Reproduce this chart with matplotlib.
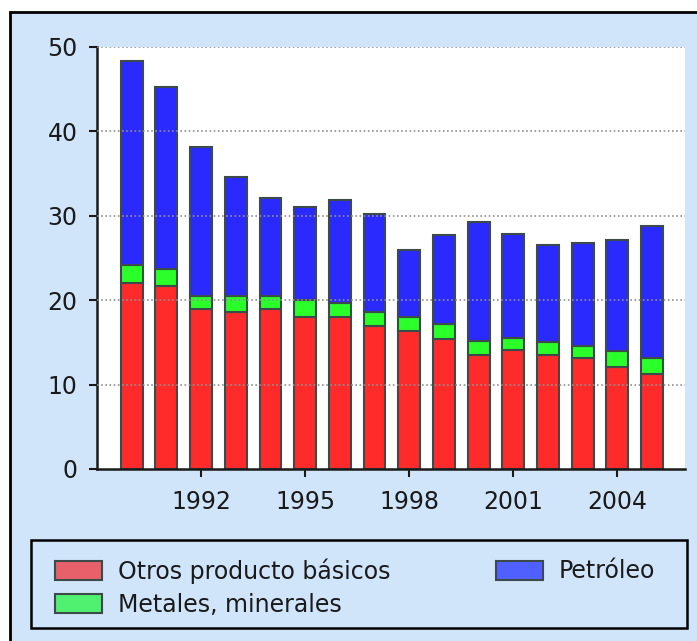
import numpy as np
import matplotlib.pyplot as plt
from matplotlib.patches import Rectangle

# values
years = np.arange(1990, 2006)
otros = [22.0, 21.7, 19.0, 18.6, 19.0, 18.0, 18.0, 16.9, 16.3, 15.4, 13.5, 14.1, 13.5, 13.2, 12.1, 11.3]
metales = [2.2, 2.0, 1.5, 1.9, 1.5, 2.0, 1.7, 1.7, 1.7, 1.8, 1.7, 1.4, 1.5, 1.4, 1.9, 1.9]
petroleo = [24.1, 21.6, 17.6, 14.1, 11.6, 11.0, 12.2, 11.6, 8.0, 10.5, 14.1, 12.4, 11.5, 12.2, 13.1, 15.6]
year_ticks = [1992, 1995, 1998, 2001, 2004]
labels = ['Otros producto básicos', 'Metales, minerales', 'Petróleo']

bg = '#d0e4fa'
edge = '#3c4a4a'

fig = plt.figure(figsize=(6.97, 6.41), dpi=100)
fig.patch.set_facecolor('white')
W, H = 697.0, 641.0
# outer panel and legend box
fig.patches.append(Rectangle((10 / W, -0.1), 1.0, 1.1 - 12 / H, transform=fig.transFigure,
                             facecolor=bg, edgecolor='black', linewidth=2, zorder=-5))
fig.patches.append(Rectangle((31 / W, 1 - 628 / H), 656 / W, 88 / H, transform=fig.transFigure,
                             facecolor='none', edgecolor='black', linewidth=1.8, zorder=-4))

ax = fig.add_axes([97 / W, 1 - 469 / H, (685 - 97) / W, (469 - 47) / H])
ax.set_facecolor('white')

bottom2 = np.array(otros) + np.array(metales)
ax.bar(years, otros, width=0.63, color='#ff2a2a', edgecolor=edge, linewidth=1.5, zorder=2)
ax.bar(years, metales, width=0.63, bottom=otros, color='#2aff2a', edgecolor=edge, linewidth=1.5, zorder=2)
ax.bar(years, petroleo, width=0.63, bottom=bottom2, color='#2a2aff', edgecolor=edge, linewidth=1.5, zorder=2)

ax.set_xlim(1989, 2005.95)
ax.set_ylim(0, 50)
ax.set_yticks([0, 10, 20, 30, 40, 50])
ax.set_xticks(year_ticks)
ax.tick_params(axis='both', labelsize=17, colors='#1a1a1a', width=1.5, length=6, direction='out')
ax.tick_params(axis='x', pad=9)
ax.tick_params(axis='y', pad=8)

for y in [10, 20, 30, 40, 50]:
    ax.axhline(y, color='#909090', linestyle=(0, (1, 1.5)), linewidth=1.2, zorder=3)

for s in ['top', 'right']:
    ax.spines[s].set_visible(False)
for s in ['left', 'bottom']:
    ax.spines[s].set_linewidth(1.8)
    ax.spines[s].set_color('#1a1a1a')

handles = [Rectangle((0, 0), 1, 1, facecolor='#e8606a', edgecolor=edge, linewidth=1.5),
           Rectangle((0, 0), 1, 1, facecolor='#50f070', edgecolor=edge, linewidth=1.5),
           Rectangle((0, 0), 1, 1, facecolor='#5060ff', edgecolor=edge, linewidth=1.5)]
leg = fig.legend(handles, labels, ncol=2, loc='upper left',
                 bbox_to_anchor=(55 / W, 1 - 622 / H, 600 / W, 64 / H), mode='expand',
                 fontsize=17, frameon=False, handlelength=2.0, handleheight=0.85,
                 handletextpad=0.65, labelspacing=0.4, borderaxespad=0, borderpad=0)
for t in leg.get_texts():
    t.set_color('#1a1a1a')

fig.savefig('out.png', dpi=100)
